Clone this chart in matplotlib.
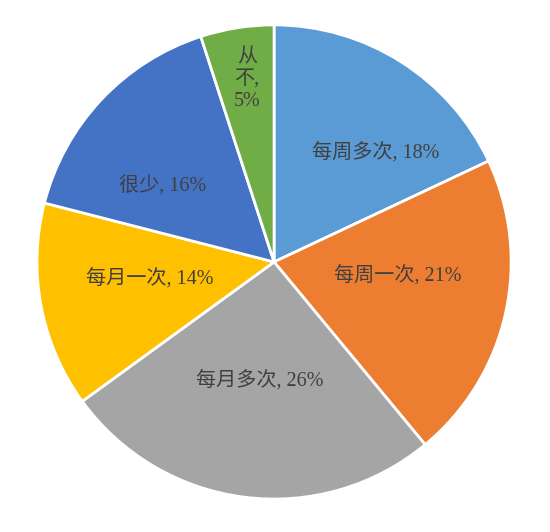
import matplotlib
matplotlib.use('Agg')
import matplotlib.pyplot as plt

# data
categories = ['每周多次', '每周一次', '每月多次', '每月一次', '很少', '从不']
shares = [18, 21, 26, 14, 16, 5]
colors = ['#5B9BD5', '#ED7D31', '#A5A5A5', '#FFC000', '#4472C4', '#70AD47']

labels = ['%s, %d%%' % (c, s) for c, s in zip(categories, shares)]
labels[5] = '从\n不,\n5%'
# label centres in units of the pie radius (Excel "best fit" placement)
label_pos = [(0.428, 0.464), (0.523, -0.055), (-0.059, -0.499),
             (-0.523, -0.068), (-0.468, 0.325), (-0.114, 0.768)]

plt.rcParams['font.family'] = ['Liberation Serif', 'Noto Sans CJK SC', 'DejaVu Sans']

fig = plt.figure(figsize=(5.5, 5.32), dpi=100)
ax = fig.add_axes([0, 0, 1, 1])

wedges, texts = ax.pie(shares, colors=colors, startangle=90, counterclock=False,
                       radius=1.0, center=(0, 0), labels=labels, labeldistance=0.55,
                       wedgeprops=dict(edgecolor='white', linewidth=2),
                       textprops=dict(fontsize=14.5, color='#404040'))

for t, pos in zip(texts, label_pos):
    t.set_position(pos)
    t.set_ha('center')
    t.set_va('center')
    t.set_multialignment('center')
    t.set_linespacing(1.2)

ax.set_xlim(-1.156, 1.164)
ax.set_ylim(-1.139, 1.105)
ax.set_aspect('equal')
ax.axis('off')

fig.savefig('out.png', dpi=100)
